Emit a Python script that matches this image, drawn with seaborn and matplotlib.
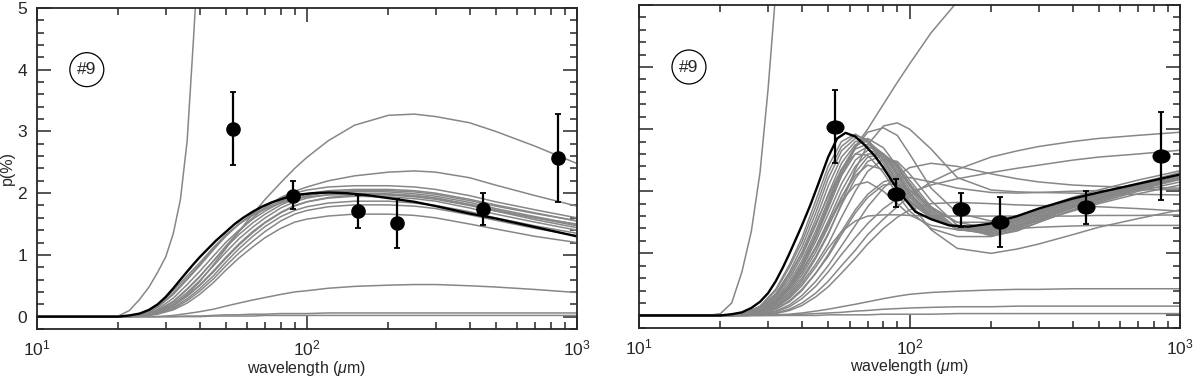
import numpy as np
import pandas as pd
import matplotlib
matplotlib.use("Agg")
import matplotlib.pyplot as plt
import seaborn as sns
from matplotlib.ticker import LogLocator, MultipleLocator, NullFormatter
from matplotlib.path import Path
from matplotlib.markers import MarkerStyle
from matplotlib.transforms import Affine2D

wavelength = [10, 20, 22, 25, 28, 32, 36, 40, 45, 50, 56, 63, 70, 80, 90,
              100, 120, 150, 200, 250, 300, 400, 500, 700, 1000]
fine_wave = [10, 18, 20, 22, 24, 26, 28, 30, 32, 34, 36, 38, 40, 43, 46, 50, 54, 58,
             63, 68, 74, 80, 87, 95, 105, 120, 140, 165, 200, 250, 300, 400, 500, 700, 1000]

# observed polarization (same points in both panels)
obs_wave = [53, 89, 155, 215, 450, 850]
obs_p = [3.04, 1.96, 1.71, 1.51, 1.75, 2.57]
obs_lo = [2.45, 1.74, 1.43, 1.11, 1.48, 1.86]
obs_hi = [3.63, 2.20, 1.97, 1.91, 2.01, 3.28]

nan = np.nan

# left panel: best model (black, fine grid), steep model (fine grid), other models (coarse grid)
left_best = [0, 0, 0, 0.02, 0.05, 0.11, 0.2, 0.32, 0.46, 0.6, 0.73, 0.85, 0.96, 1.1, 1.23, 1.37,
             1.5, 1.6, 1.7, 1.78, 1.85, 1.9, 1.95, 1.98, 2.0, 2.01, 2.0, 1.97, 1.92, 1.86, 1.79,
             1.67, 1.59, 1.45, 1.30]
left_steep = [0, 0, 0.01, 0.1, 0.28, 0.48, 0.72, 0.97, 1.35, 1.9, 2.85, 4.5, 6.2, nan, nan, nan,
              nan, nan, nan, nan, nan, nan, nan, nan, nan, nan, nan, nan, nan, nan, nan, nan,
              nan, nan, nan]
left_models = [
    [0, 0, 0, 0.02, 0.06, 0.18, 0.36, 0.56, 0.84, 1.1, 1.38, 1.66, 1.9, 2.17, 2.4, 2.58, 2.85, 3.1, 3.26, 3.28, 3.24, 3.14, 3.0, 2.76, 2.48],
    [0, 0, 0, 0.03, 0.09, 0.24, 0.44, 0.64, 0.9, 1.14, 1.38, 1.6, 1.77, 1.93, 2.03, 2.1, 2.2, 2.28, 2.34, 2.36, 2.34, 2.25, 2.13, 1.96, 1.79],
    [0, 0, 0.01, 0.05, 0.15, 0.36, 0.6, 0.82, 1.08, 1.3, 1.5, 1.67, 1.8, 1.92, 2.0, 2.05, 2.1, 2.12, 2.12, 2.1, 2.06, 1.96, 1.86, 1.73, 1.60],
    [0, 0, 0.01, 0.04, 0.12, 0.3, 0.52, 0.73, 0.98, 1.2, 1.4, 1.58, 1.71, 1.85, 1.94, 1.99, 2.04, 2.06, 2.06, 2.04, 2.0, 1.9, 1.81, 1.68, 1.55],
    [0, 0, 0, 0.03, 0.1, 0.25, 0.45, 0.65, 0.9, 1.12, 1.33, 1.52, 1.66, 1.81, 1.9, 1.96, 2.01, 2.03, 2.02, 1.99, 1.95, 1.85, 1.75, 1.62, 1.49],
    [0, 0, 0, 0.03, 0.08, 0.21, 0.39, 0.58, 0.82, 1.04, 1.26, 1.45, 1.6, 1.76, 1.86, 1.92, 1.98, 2.0, 1.99, 1.96, 1.92, 1.81, 1.71, 1.57, 1.44],
    [0, 0, 0, 0.02, 0.07, 0.18, 0.34, 0.51, 0.74, 0.96, 1.18, 1.38, 1.53, 1.69, 1.8, 1.86, 1.92, 1.95, 1.94, 1.91, 1.87, 1.76, 1.66, 1.53, 1.40],
    [0, 0, 0, 0.02, 0.06, 0.15, 0.29, 0.45, 0.66, 0.88, 1.1, 1.3, 1.46, 1.62, 1.72, 1.78, 1.84, 1.87, 1.87, 1.84, 1.8, 1.7, 1.6, 1.47, 1.35],
    [0, 0, 0, 0.01, 0.04, 0.11, 0.22, 0.36, 0.55, 0.75, 0.95, 1.13, 1.28, 1.43, 1.53, 1.58, 1.63, 1.66, 1.66, 1.64, 1.6, 1.5, 1.42, 1.30, 1.20],
    [0, 0, 0.01, 0.06, 0.18, 0.42, 0.66, 0.87, 1.12, 1.32, 1.5, 1.64, 1.74, 1.84, 1.9, 1.94, 1.97, 1.98, 1.97, 1.94, 1.9, 1.8, 1.71, 1.6, 1.5],
    [0, 0, 0.01, 0.05, 0.16, 0.38, 0.62, 0.84, 1.1, 1.31, 1.5, 1.65, 1.76, 1.87, 1.94, 1.98, 2.02, 2.04, 2.04, 2.02, 1.98, 1.88, 1.79, 1.67, 1.55],
    [0, 0, 0, 0.02, 0.07, 0.18, 0.33, 0.5, 0.72, 0.94, 1.16, 1.36, 1.52, 1.68, 1.79, 1.86, 1.93, 1.97, 1.98, 1.96, 1.92, 1.82, 1.73, 1.6, 1.47],
    [0, 0, 0, 0.01, 0.05, 0.13, 0.26, 0.41, 0.61, 0.82, 1.03, 1.22, 1.38, 1.55, 1.66, 1.72, 1.78, 1.81, 1.81, 1.79, 1.75, 1.65, 1.56, 1.43, 1.31],
    [0, 0, 0, 0, 0, 0.02, 0.05, 0.08, 0.12, 0.17, 0.22, 0.27, 0.31, 0.36, 0.4, 0.42, 0.46, 0.49, 0.51, 0.52, 0.52, 0.5, 0.48, 0.44, 0.39],
    [0, 0, 0, 0, 0, 0, 0.01, 0.01, 0.02, 0.03, 0.03, 0.04, 0.04, 0.05, 0.05, 0.05, 0.06, 0.06, 0.06, 0.06, 0.06, 0.06, 0.06, 0.06, 0.06],
    [0, 0, 0, 0, 0, 0, 0, 0, 0.01, 0.01, 0.01, 0.01, 0.02, 0.02, 0.02, 0.02, 0.02, 0.02, 0.02, 0.02, 0.02, 0.02, 0.02, 0.02, 0.02],
]

# right panel
right_best = [0, 0, 0, 0.02, 0.05, 0.12, 0.22, 0.36, 0.55, 0.77, 1.0, 1.23, 1.45, 1.78, 2.12, 2.55,
              2.85, 2.94, 2.88, 2.75, 2.58, 2.38, 2.13, 1.9, 1.67, 1.55, 1.45, 1.43, 1.48, 1.6,
              1.72, 1.88, 1.98, 2.12, 2.27]
right_steep = [0, 0, 0.03, 0.2, 0.7, 1.35, 2.3, 3.65, 5.2, nan, nan, nan, nan, nan, nan, nan, nan,
               nan, nan, nan, nan, nan, nan, nan, nan, nan, nan, nan, nan, nan, nan, nan, nan,
               nan, nan]
right_models = [
    [0, 0, 0, 0.02, 0.07, 0.22, 0.48, 0.8, 1.28, 1.78, 2.3, 2.72, 3.0, 3.4, 3.75, 4.05, 4.55, 5.05, nan, nan, nan, nan, nan, nan, nan],
    [0, 0, 0.01, 0.05, 0.15, 0.42, 0.82, 1.25, 1.85, 2.4, 2.8, 2.92, 2.8, 2.45, 2.08, 1.82, 1.57, 1.43, 1.45, 1.57, 1.69, 1.85, 1.95, 2.09, 2.24],
    [0, 0, 0.01, 0.04, 0.12, 0.35, 0.7, 1.1, 1.65, 2.2, 2.65, 2.85, 2.82, 2.52, 2.15, 1.86, 1.58, 1.42, 1.43, 1.54, 1.66, 1.83, 1.94, 2.08, 2.22],
    [0, 0, 0, 0.03, 0.1, 0.3, 0.6, 0.95, 1.45, 1.95, 2.45, 2.75, 2.8, 2.6, 2.25, 1.93, 1.6, 1.4, 1.4, 1.52, 1.64, 1.82, 1.93, 2.08, 2.24],
    [0, 0, 0, 0.02, 0.08, 0.25, 0.5, 0.82, 1.28, 1.75, 2.25, 2.6, 2.72, 2.6, 2.3, 1.98, 1.62, 1.39, 1.37, 1.48, 1.6, 1.78, 1.9, 2.06, 2.22],
    [0, 0, 0, 0.02, 0.06, 0.2, 0.42, 0.7, 1.1, 1.52, 2.0, 2.4, 2.6, 2.6, 2.38, 2.08, 1.68, 1.38, 1.33, 1.44, 1.57, 1.76, 1.88, 2.05, 2.21],
    [0, 0, 0, 0.01, 0.05, 0.16, 0.35, 0.6, 0.95, 1.32, 1.78, 2.2, 2.48, 2.58, 2.45, 2.18, 1.75, 1.4, 1.3, 1.4, 1.53, 1.73, 1.86, 2.04, 2.2],
    [0, 0, 0, 0.01, 0.04, 0.13, 0.3, 0.52, 0.83, 1.15, 1.58, 2.0, 2.32, 2.52, 2.48, 2.28, 1.85, 1.45, 1.28, 1.36, 1.5, 1.7, 1.84, 2.02, 2.19],
    [0, 0, 0.01, 0.05, 0.14, 0.4, 0.78, 1.18, 1.75, 2.3, 2.72, 2.9, 2.83, 2.5, 2.12, 1.84, 1.57, 1.42, 1.44, 1.56, 1.68, 1.84, 1.95, 2.09, 2.23],
    [0, 0, 0, 0.03, 0.11, 0.32, 0.65, 1.02, 1.55, 2.08, 2.55, 2.8, 2.82, 2.56, 2.2, 1.9, 1.59, 1.41, 1.41, 1.53, 1.65, 1.83, 1.94, 2.08, 2.23],
    [0, 0, 0, 0.03, 0.09, 0.27, 0.55, 0.88, 1.36, 1.85, 2.35, 2.68, 2.76, 2.6, 2.28, 1.96, 1.61, 1.4, 1.38, 1.5, 1.62, 1.8, 1.92, 2.07, 2.23],
    [0, 0, 0, 0.02, 0.07, 0.22, 0.46, 0.76, 1.19, 1.63, 2.12, 2.5, 2.66, 2.6, 2.34, 2.03, 1.65, 1.38, 1.35, 1.46, 1.58, 1.77, 1.89, 2.05, 2.21],
    [0, 0, 0, 0.01, 0.05, 0.18, 0.38, 0.65, 1.02, 1.42, 1.9, 2.3, 2.55, 2.6, 2.42, 2.13, 1.71, 1.39, 1.31, 1.42, 1.55, 1.74, 1.87, 2.04, 2.2],
    [0, 0, 0, 0.01, 0.03, 0.1, 0.24, 0.42, 0.68, 0.95, 1.3, 1.65, 1.9, 2.1, 2.12, 2.02, 1.75, 1.5, 1.4, 1.45, 1.52, 1.68, 1.8, 1.96, 2.1],
    [0, 0, 0, 0.01, 0.04, 0.14, 0.32, 0.56, 0.92, 1.3, 1.8, 2.35, 2.75, 3.05, 3.1, 3.0, 2.68, 2.22, 2.02, 1.99, 1.98, 1.97, 1.96, 1.95, 1.94],
    [0, 0, 0, 0.02, 0.06, 0.2, 0.45, 0.78, 1.25, 1.72, 2.25, 2.7, 2.95, 3.02, 2.9, 2.6, 2.05, 1.65, 1.52, 1.58, 1.68, 1.85, 1.97, 2.13, 2.3],
    [0, 0, 0, 0.02, 0.07, 0.22, 0.45, 0.72, 1.1, 1.48, 1.9, 2.25, 2.42, 2.35, 2.1, 1.82, 1.38, 1.08, 1.0, 1.07, 1.15, 1.3, 1.42, 1.56, 1.70],
    [0, 0, 0, 0.01, 0.04, 0.12, 0.28, 0.48, 0.78, 1.08, 1.35, 1.52, 1.6, 1.62, 1.62, 1.61, 1.6, 1.6, 1.6, 1.6, 1.6, 1.6, 1.61, 1.61, 1.62],
    [0, 0, 0, 0.02, 0.06, 0.2, 0.42, 0.7, 1.08, 1.45, 1.85, 2.1, 2.15, 2.0, 1.8, 1.62, 1.45, 1.38, 1.38, 1.4, 1.42, 1.44, 1.45, 1.45, 1.45],
    [0, 0, 0, 0, 0.01, 0.04, 0.1, 0.2, 0.36, 0.55, 0.8, 1.05, 1.3, 1.55, 1.75, 1.92, 2.15, 2.35, 2.55, 2.65, 2.72, 2.8, 2.85, 2.9, 2.95],
    [0, 0, 0, 0, 0.02, 0.06, 0.14, 0.27, 0.47, 0.7, 0.98, 1.25, 1.48, 1.72, 1.88, 1.98, 2.1, 2.2, 2.3, 2.37, 2.42, 2.5, 2.55, 2.6, 2.66],
    [0, 0, 0, 0, 0.02, 0.07, 0.17, 0.32, 0.55, 0.8, 1.12, 1.45, 1.75, 2.05, 2.25, 2.38, 2.45, 2.4, 2.28, 2.2, 2.15, 2.1, 2.08, 2.06, 2.05],
    [0, 0, 0, 0.01, 0.03, 0.1, 0.22, 0.4, 0.68, 0.98, 1.35, 1.7, 1.95, 2.15, 2.22, 2.22, 2.15, 2.05, 1.98, 1.97, 1.98, 2.0, 2.01, 2.02, 2.03],
    [0, 0, 0, 0, 0.01, 0.03, 0.08, 0.16, 0.3, 0.46, 0.68, 0.92, 1.15, 1.4, 1.58, 1.7, 1.8, 1.82, 1.8, 1.78, 1.77, 1.76, 1.75, 1.72, 1.68],
    [0, 0, 0.01, 0.04, 0.12, 0.34, 0.66, 1.0, 1.48, 1.92, 2.35, 2.6, 2.58, 2.3, 1.95, 1.68, 1.4, 1.27, 1.27, 1.38, 1.5, 1.7, 1.82, 2.0, 2.15],
    [0, 0, 0, 0.02, 0.08, 0.24, 0.5, 0.83, 1.3, 1.8, 2.35, 2.72, 2.85, 2.7, 2.4, 2.1, 1.72, 1.5, 1.5, 1.6, 1.72, 1.9, 2.02, 2.18, 2.33],
    [0, 0, 0, 0, 0, 0.01, 0.02, 0.04, 0.07, 0.1, 0.14, 0.18, 0.22, 0.27, 0.31, 0.34, 0.37, 0.39, 0.41, 0.42, 0.42, 0.43, 0.43, 0.43, 0.43],
    [0, 0, 0, 0, 0, 0, 0.01, 0.02, 0.03, 0.04, 0.05, 0.07, 0.08, 0.1, 0.11, 0.12, 0.13, 0.14, 0.14, 0.15, 0.15, 0.15, 0.15, 0.15, 0.15],
    [0, 0, 0, 0, 0, 0, 0, 0, 0, 0.01, 0.01, 0.01, 0.01, 0.02, 0.02, 0.02, 0.02, 0.03, 0.03, 0.03, 0.03, 0.03, 0.03, 0.03, 0.03],
]


def models_frame(models, steep):
    rows = []
    for i, m in enumerate(models):
        for w, p in zip(wavelength, m):
            rows.append((i, w, p))
    for w, p in zip(fine_wave, steep):
        rows.append((len(models), w, p))
    return pd.DataFrame(rows, columns=["curve", "wavelength", "p"]).dropna()


sns.set_style("ticks")
plt.rcParams["font.family"] = ["Liberation Sans", "DejaVu Sans"]
plt.rcParams["mathtext.fontset"] = "custom"
plt.rcParams["mathtext.rm"] = "Liberation Sans"
plt.rcParams["mathtext.it"] = "Liberation Sans:italic"

fig = plt.figure(figsize=(12, 3.76), dpi=100)
ax_l = fig.add_axes([0.0308, 0.125, 0.45, 0.854])
ax_r = fig.add_axes([0.5325, 0.128, 0.451, 0.859])

# ellipse marker for right panel
ell = Path.unit_circle().transformed(Affine2D().scale(1.3, 1.0))

panels = [(ax_l, left_best, left_models, left_steep, "o", 9.5),
          (ax_r, right_best, right_models, right_steep, MarkerStyle(ell), 12)]
for ax, best, models, steep, marker, ms in panels:
    df = models_frame(models, steep)
    sns.lineplot(data=df, x="wavelength", y="p", units="curve", estimator=None,
                 color="#878787", lw=1.1, ax=ax, legend=False, sort=False)
    sns.lineplot(x=fine_wave, y=best, color="black", lw=1.7, ax=ax, legend=False)
    yerr = [np.array(obs_p) - np.array(obs_lo), np.array(obs_hi) - np.array(obs_p)]
    ax.errorbar(obs_wave, obs_p, yerr=yerr, fmt="none", ecolor="black",
                elinewidth=1.6, capsize=2.5, capthick=1.3, zorder=5)
    ax.plot(obs_wave, obs_p, linestyle="none", marker=marker, ms=ms,
            color="black", zorder=6)

    ax.set_xscale("log")
    ax.set_xlim(10, 1000)
    ax.set_ylim(-0.2, 5)
    ax.xaxis.set_major_locator(LogLocator(base=10, numticks=5))
    ax.xaxis.set_minor_locator(LogLocator(base=10, subs=np.arange(2, 10), numticks=20))
    ax.xaxis.set_minor_formatter(NullFormatter())
    ax.yaxis.set_major_locator(MultipleLocator(1))
    ax.yaxis.set_minor_locator(MultipleLocator(0.2))
    ax.tick_params(which="both", direction="in", top=True, right=True,
                   labelsize=12.5, width=1.1, pad=7)
    ax.tick_params(which="major", length=10)
    ax.tick_params(which="minor", length=5)
    for s in ax.spines.values():
        s.set_linewidth(1.3)
    ax.set_xlabel(r"wavelength ($\mu$m)", fontsize=11.5, labelpad=0)
    ax.set_ylabel("")
    ax.text(15.3, 4.0, "#9", fontsize=12.5, ha="center", va="center",
            bbox=dict(boxstyle="circle,pad=0.42", fc="white", ec="black", lw=0.9))

ax_l.set_ylabel("p(%)", fontsize=11.5, labelpad=2)
ax_r.tick_params(labelleft=False)

fig.savefig("out.png", dpi=100)
